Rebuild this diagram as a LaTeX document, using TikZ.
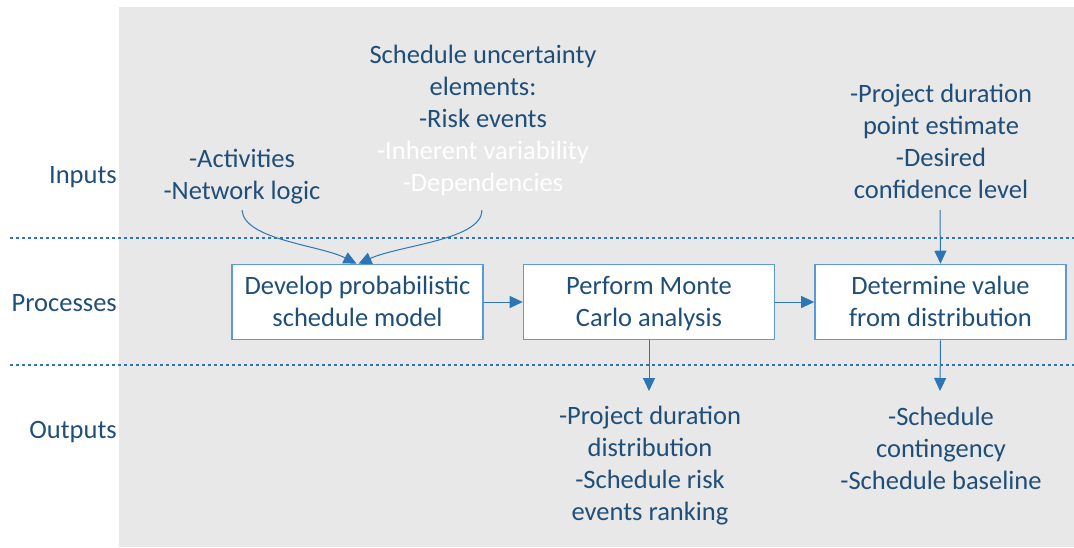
\documentclass[tikz,border=0pt]{standalone}
\usepackage{fontspec}
\setmainfont{Carlito}
\usetikzlibrary{arrows.meta}
\definecolor{txtblue}{HTML}{1F4E79}
\definecolor{arrblue}{HTML}{2E75B6}
\definecolor{boxblue}{HTML}{5B9BD5}
\definecolor{bggray}{HTML}{E8E8E8}
\newcommand{\topstrut}{\rule{0pt}{38pt}}
\newcommand{\botstrut}{\rule[-9.2pt]{0pt}{9.2pt}}
\newcommand{\boxtext}[1]{\raisebox{-7.9pt}[0pt][0pt]{\begin{tabular}{@{}c@{}}#1\end{tabular}}}
\tikzset{
  bigfont/.style={font=\fontsize{26.5}{32}\selectfont},
  lbl/.style={bigfont, text=txtblue, align=center, inner sep=0pt,
    execute at begin node=\topstrut, execute at end node=\botstrut},
  rowlbl/.style={bigfont, text=txtblue, anchor=base east, inner sep=0pt},
  procbox/.style={draw=boxblue, line width=1.6pt, fill=white, minimum width=251pt, minimum height=75pt, bigfont, text=txtblue, inner sep=0pt},
  conn/.style={draw=arrblue, line width=1pt, -{Triangle[length=13pt,width=12pt]}},
  sep/.style={draw=arrblue, line width=1.5pt, dash pattern=on 3pt off 3pt}
}
\begin{document}
\begin{tikzpicture}[x=1pt,y=-1pt]
\useasboundingbox (0,0) rectangle (1074,547);
\fill[bggray] (119,7) rectangle (1074,547);
% separators
\coordinate (s1a) at (10,238); \coordinate (s1b) at (1074,238);
\coordinate (s2a) at (10,365); \coordinate (s2b) at (1074,365);
\draw[sep] (s1a) -- (s1b);
\draw[sep] (s2a) -- (s2b);
% row labels
\node[rowlbl] (inputs) at (117,183) {Inputs};
\node[rowlbl] (processes) at (117,311) {Processes};
\node[rowlbl] (outputs) at (117,438) {Outputs};
% boxes
\node[procbox] (b1) at (357.5,302) {\boxtext{Develop probabilistic\\schedule model}};
\node[procbox] (b2) at (649,302) {\boxtext{Perform Monte\\Carlo analysis}};
\node[procbox] (b3) at (940.5,302) {\boxtext{Determine value\\from distribution}};
% inputs
\node[lbl] (in1) at (242,179) {-Activities\\-Network logic};
\node[lbl] (in2) at (483,123) {Schedule uncertainty\\elements:\\-Risk events\\\textcolor{white}{-Inherent variability}\\\textcolor{white}{-Dependencies}};
\node[lbl] (in3) at (941,145.6) {-Project duration\\point estimate\\-Desired\\confidence level};
% outputs
\node[lbl] (out1) at (650,467.5) {-Project duration\\distribution\\-Schedule risk\\events ranking};
\node[lbl] (out2) at (941,452.6) {-Schedule\\contingency\\-Schedule baseline};
% connectors
\coordinate (c1) at (242,210);
\coordinate (c2) at (482,210);
\coordinate (c3) at (940,210);
\coordinate (o1) at (649,391);
\coordinate (o2) at (940,391);
\draw[conn] (c1) .. controls (244,240) and (320,245) .. ([xshift=-1pt]b1.north);
\draw[conn] (c2) .. controls (482,240) and (400,245) .. ([xshift=1pt]b1.north);
\draw[conn] (c3) -- (b3.north);
\draw[conn] (b1.east) -- (b2.west);
\draw[conn] (b2.east) -- (b3.west);
\draw[conn] (b2.south) -- (o1);
\draw[conn] (b3.south) -- (o2);
\end{tikzpicture}
\end{document}
